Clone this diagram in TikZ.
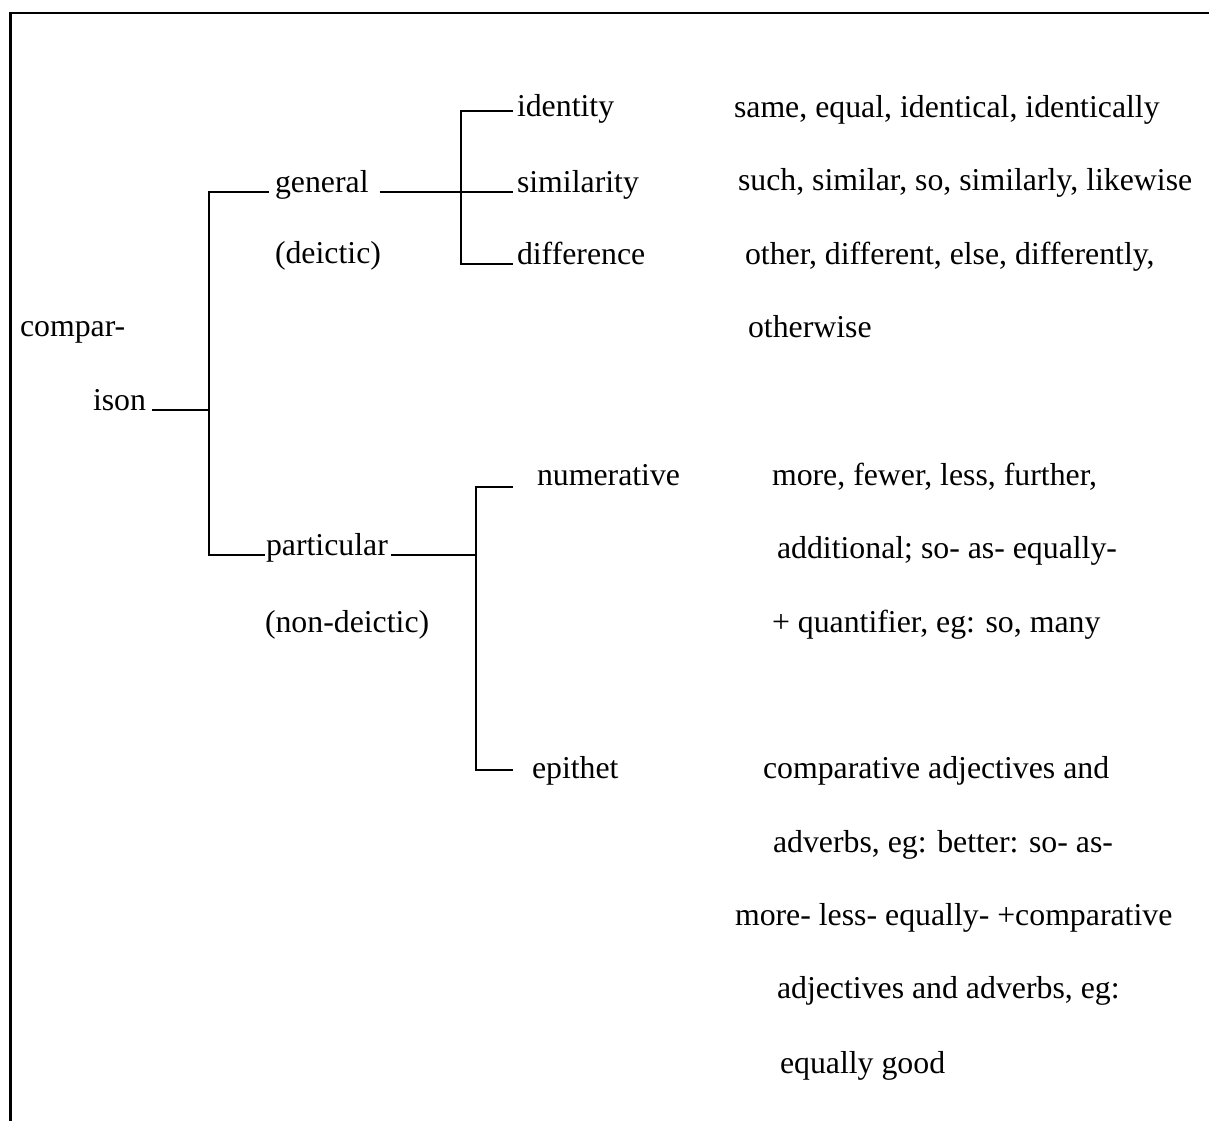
\documentclass[tikz,border=0pt]{standalone}
\usepackage{fontspec}
\setmainfont{Liberation Serif}
\begin{document}
\begin{tikzpicture}[x=1pt,y=-1pt,
  lbl/.style={anchor=base west,inner sep=0pt,outer sep=0pt,font=\fontsize{31.8}{38}\selectfont},
  conn/.style={line width=2.2pt,line cap=butt},
  frame/.style={line width=2.8pt}]
\useasboundingbox (0,0) rectangle (1209,1120);
% frame (top and left only)
\draw[frame] (10.7,1121) -- (10.7,13) -- (1210,13);
% left tree labels
\node[lbl] (compar) at (20,336) {compar-};
\node[lbl] (ison) at (93,410) {ison};
\node[lbl] (general) at (275,192) {general};
\node[lbl] (deictic) at (275,263) {(deictic)};
\node[lbl] (particular) at (266,555) {particular};
\node[lbl] (nondeictic) at (265,632) {(non-deictic)};
\node[lbl] (identity) at (517,116) {identity};
\node[lbl] (similarity) at (517,192) {similarity};
\node[lbl] (difference) at (517,264) {difference};
\node[lbl] (numerative) at (537,485) {numerative};
\node[lbl] (epithet) at (532,778) {epithet};
% right column
\node[lbl] (t1) at (734,117) {same, equal, identical, identically};
\node[lbl] (t2) at (738,190) {such, similar, so, similarly, likewise};
\node[lbl] (t3) at (745,264) {other, different, else, differently,};
\node[lbl] (t4) at (748,337) {otherwise};
\node[lbl] (t5) at (772,485) {more, fewer, less, further,};
\node[lbl] (t6) at (777,558) {additional; so- as- equally-};
\node[lbl] (t7) at (772,632) {+ quantifier, eg: so, many};
\node[lbl] (t8) at (763,778) {comparative adjectives and};
\node[lbl] (t9) at (773,852) {adverbs, eg: better: so- as-};
\node[lbl] (t10) at (735,925) {more- less- equally- +comparative};
\node[lbl] (t11) at (777,998) {adjectives and adverbs, eg:};
\node[lbl] (t12) at (780,1073) {equally good};
% junctions
\coordinate (jc) at (209,410);
\coordinate (jg) at (461,192);
\coordinate (jp) at (476,555);
% connectors
\draw[conn] ([xshift=6pt]ison.base east) -- (jc);
\draw[conn] ([xshift=-6pt]general.base west) -| (jc) |- ([xshift=-1pt]particular.base west);
\draw[conn] ([xshift=11pt]general.base east) -- ([xshift=-4pt]similarity.base west);
\draw[conn] ([xshift=-4pt,yshift=5pt]identity.base west) -| (jg) |- ([xshift=-4pt]difference.base west);
\draw[conn] ([xshift=3pt]particular.base east) -- (jp);
\draw[conn] ([xshift=-24pt,yshift=-2pt]numerative.base west) -| (jp) |- ([xshift=-19pt,yshift=8pt]epithet.base west);
\end{tikzpicture}
\end{document}
